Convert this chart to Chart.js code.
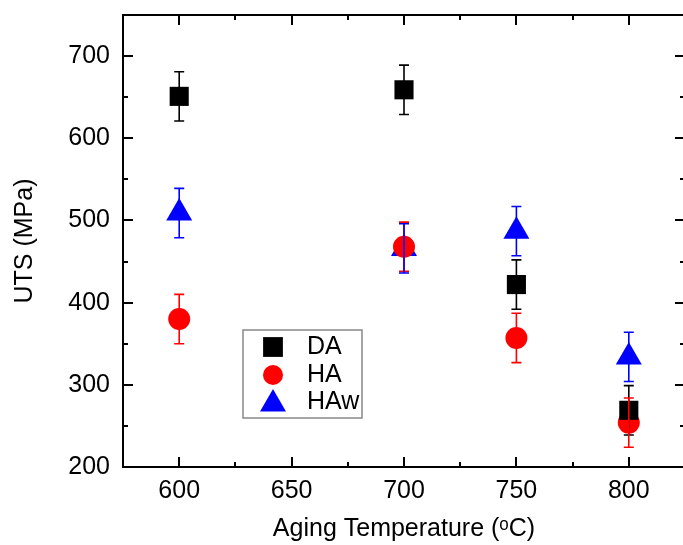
<!DOCTYPE html>
<html><head><meta charset="utf-8">
<script src="https://cdn.jsdelivr.net/npm/chart.js@4"></script>
<style>html,body{margin:0;padding:0;overflow:hidden;background:#fff}</style>
</head><body>
<canvas id="c" width="700" height="545"></canvas>
<script>
// ---- data ----
const temps   = [600, 700, 750, 800];
const daVals  = [651, 659, 422, 269];
const daErr   = [30, 30, 30, 30];
const haVals  = [380, 468, 357, 254];
const haErr   = [30, 30, 30, 30];
const hawVals = [509, 466, 487, 334];
const hawErr  = [30, 30, 30, 30];
const seriesNames = ['DA', 'HA', 'HAw'];
const xTicks = [600, 650, 700, 750, 800];
const xMinor = [625, 675, 725, 775];
const yTicks = [200, 300, 400, 500, 600, 700];
const yMinor = [250, 350, 450, 550, 650];

const FONT = 'Liberation Sans, Arial, Helvetica, sans-serif';
const FS = 25;
const colors = ['#000000', '#ff0000', '#0000ff'];
const styles = ['rect', 'circle', 'triangle'];
const radii = [13.5, 11, 15];
const allVals = [daVals, haVals, hawVals];
const allErr = [daErr, haErr, hawErr];

const datasets = allVals.map((vals, k) => ({
  label: seriesNames[k],
  data: temps.map((t, i) => ({x: t, y: vals[i]})),
  pointStyle: styles[k],
  pointRadius: radii[k],
  pointHoverRadius: radii[k],
  pointBackgroundColor: colors[k],
  pointBorderColor: colors[k],
  pointBorderWidth: 0,
  backgroundColor: colors[k],
  borderColor: colors[k],
  showLine: false
}));

const errorBars = {
  id: 'errorBars',
  afterDatasetsDraw(chart) {
    const {ctx, scales: {x, y}} = chart;
    ctx.save();
    ctx.lineWidth = 1.6;
    allVals.forEach((vals, k) => {
      ctx.strokeStyle = colors[k];
      temps.forEach((t, i) => {
        const px = x.getPixelForValue(t);
        const top = y.getPixelForValue(vals[i] + allErr[k][i]);
        const bot = y.getPixelForValue(vals[i] - allErr[k][i]);
        ctx.beginPath();
        ctx.moveTo(px, top); ctx.lineTo(px, bot);
        ctx.moveTo(px - 5, top); ctx.lineTo(px + 5, top);
        ctx.moveTo(px - 5, bot); ctx.lineTo(px + 5, bot);
        ctx.stroke();
      });
    });
    ctx.restore();
  }
};

const frame = {
  id: 'frame',
  afterDraw(chart) {
    const {ctx, chartArea: a, scales: {x, y}} = chart;
    ctx.save();
    ctx.strokeStyle = '#000';
    ctx.lineWidth = 2;
    ctx.strokeRect(a.left, a.top, a.right - a.left, a.bottom - a.top);
    ctx.beginPath();
    const tx = (v, len) => {
      const px = Math.round(x.getPixelForValue(v));
      ctx.moveTo(px, a.bottom); ctx.lineTo(px, a.bottom - len);
      ctx.moveTo(px, a.top); ctx.lineTo(px, a.top + len);
    };
    const ty = (v, len) => {
      const py = Math.round(y.getPixelForValue(v));
      ctx.moveTo(a.left, py); ctx.lineTo(a.left + len, py);
      ctx.moveTo(a.right, py); ctx.lineTo(a.right - len, py);
    };
    xTicks.forEach(v => tx(v, 10));
    xMinor.forEach(v => tx(v, 5));
    yTicks.forEach(v => ty(v, 10));
    yMinor.forEach(v => ty(v, 5));
    ctx.stroke();

    // legend
    const bx = 243, by = 330, bw = 119, bh = 88;
    ctx.fillStyle = '#fff';
    ctx.fillRect(bx, by, bw, bh);
    ctx.strokeStyle = '#888';
    ctx.lineWidth = 1.5;
    ctx.strokeRect(bx, by, bw, bh);
    const legR = [14, 10, 15];
    const rowY = [347, 375, 402];
    seriesNames.forEach((name, k) => {
      ctx.fillStyle = colors[k];
      ctx.strokeStyle = colors[k];
      Chart.helpers.drawPoint(ctx, {pointStyle: styles[k], radius: legR[k], borderWidth: 0, rotation: 0}, 273, rowY[k] + (k === 2 ? 2 : 0));
      ctx.fillStyle = '#000';
      ctx.font = FS + 'px ' + FONT;
      ctx.textBaseline = 'middle';
      ctx.textAlign = 'left';
      ctx.fillText(name, 307, rowY[k]);
    });
    ctx.restore();
  }
};

new Chart(document.getElementById('c'), {
  type: 'scatter',
  data: {datasets},
  options: {
    responsive: false,
    animation: false,
    devicePixelRatio: 1,
    layout: {padding: {top: 10, right: 10, left: 0, bottom: 0}},
    plugins: {legend: {display: false}, tooltip: {enabled: false}},
    scales: {
      x: {
        type: 'linear', min: 575, max: 825,
        afterBuildTicks: s => { s.ticks = xTicks.map(v => ({value: v})); },
        afterFit: s => { s.height = 78; s.paddingLeft = 0; s.paddingRight = 0; },
        grid: {display: false, drawTicks: false},
        border: {display: false},
        ticks: {padding: 9, color: '#000', font: {size: FS, family: FONT}},
        title: {display: true, text: 'Aging Temperature (\u1D52C)', color: '#000',
                font: {size: FS, family: FONT, lineHeight: 1.2}, padding: {top: 0, bottom: 1}}
      },
      y: {
        type: 'linear', min: 200, max: 750,
        afterBuildTicks: s => { s.ticks = yTicks.map(v => ({value: v})); },
        afterFit: s => { s.width = 123; s.paddingTop = 0; s.paddingBottom = 0; },
        grid: {display: false, drawTicks: false},
        border: {display: false},
        ticks: {padding: 13, color: '#000', font: {size: FS, family: FONT}},
        title: {display: true, text: 'UTS (MPa)', color: '#000',
                font: {size: FS, family: FONT, lineHeight: 1.2}, padding: {top: 10, bottom: 0}}
      }
    }
  },
  plugins: [errorBars, frame]
});
</script>
</body></html>
